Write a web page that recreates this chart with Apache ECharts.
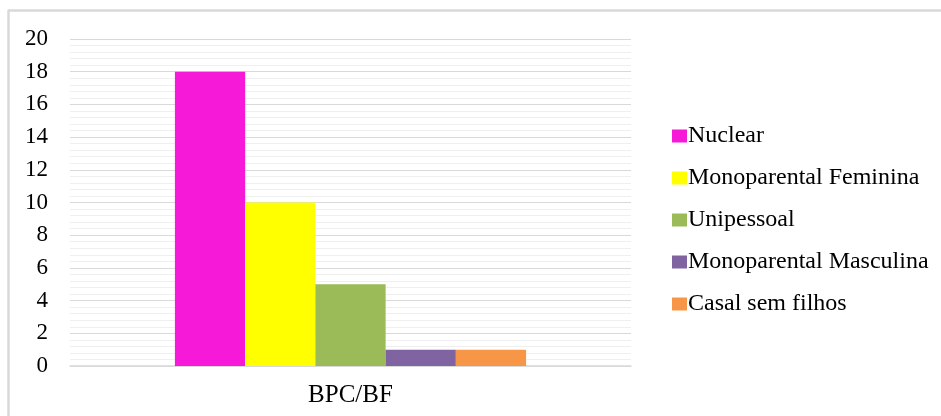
<!DOCTYPE html>
<html>
<head>
<meta charset="utf-8">
<script src="https://cdn.jsdelivr.net/npm/echarts@6/dist/echarts.min.js"></script>
<style>html,body{margin:0;padding:0;background:#fff}#c{width:941px;height:416px}</style>
</head>
<body>
<div id="c"></div>
<script>
const categories = ['BPC/BF'];
const seriesNames = ['Nuclear', 'Monoparental Feminina', 'Unipessoal', 'Monoparental Masculina', 'Casal sem filhos'];
const seriesValues = [[18], [10], [5], [1], [1]];
const seriesColors = ['#f619d8', '#ffff00', '#9bbb59', '#8064a2', '#f79646'];
const yTicks = { min: 0, max: 20, interval: 2 };

const font = 'Liberation Serif';
const chart = echarts.init(document.getElementById('c'));
chart.setOption({
  animation: false,
  backgroundColor: '#fff',
  graphic: [
    { type: 'line', shape: { x1: 8, y1: 10.5, x2: 941, y2: 10.5 }, style: { stroke: '#d9d9d9', lineWidth: 2.5 }, silent: true },
    { type: 'line', shape: { x1: 8.5, y1: 10, x2: 8.5, y2: 416 }, style: { stroke: '#d9d9d9', lineWidth: 2.5 }, silent: true }
  ],
  grid: { left: 70, right: 310, top: 39, bottom: 50, containLabel: false },
  legend: {
    orient: 'vertical',
    left: 667,
    top: 119,
    itemWidth: 15,
    itemHeight: 13,
    itemGap: 18,
    icon: 'rect',
    textStyle: { fontFamily: font, fontSize: 24, color: '#000', lineHeight: 24, padding: [0, 0, 0, -4] },
    data: seriesNames
  },
  xAxis: {
    type: 'category',
    data: categories,
    axisLine: { show: true, lineStyle: { color: '#d9d9d9', width: 1.5 } },
    axisTick: { show: false },
    axisLabel: { fontFamily: font, fontSize: 25, color: '#000', margin: 17 },
    splitLine: { show: false }
  },
  yAxis: {
    type: 'value',
    min: yTicks.min,
    max: yTicks.max,
    interval: yTicks.interval,
    axisLine: { show: false },
    axisTick: { show: false },
    axisLabel: { fontFamily: font, fontSize: 23, color: '#000', margin: 22 },
    splitLine: { show: true, lineStyle: { color: '#d9d9d9', width: 1.2 } },
    minorTick: { show: false, splitNumber: 5 },
    minorSplitLine: { show: true, lineStyle: { color: '#efefef', width: 1.2 } }
  },
  series: seriesNames.map((name, i) => ({
    name: name,
    type: 'bar',
    data: seriesValues[i],
    barGap: '0%',
    barCategoryGap: '37.4%',
    itemStyle: { color: seriesColors[i] }
  }))
});
</script>
</body>
</html>
